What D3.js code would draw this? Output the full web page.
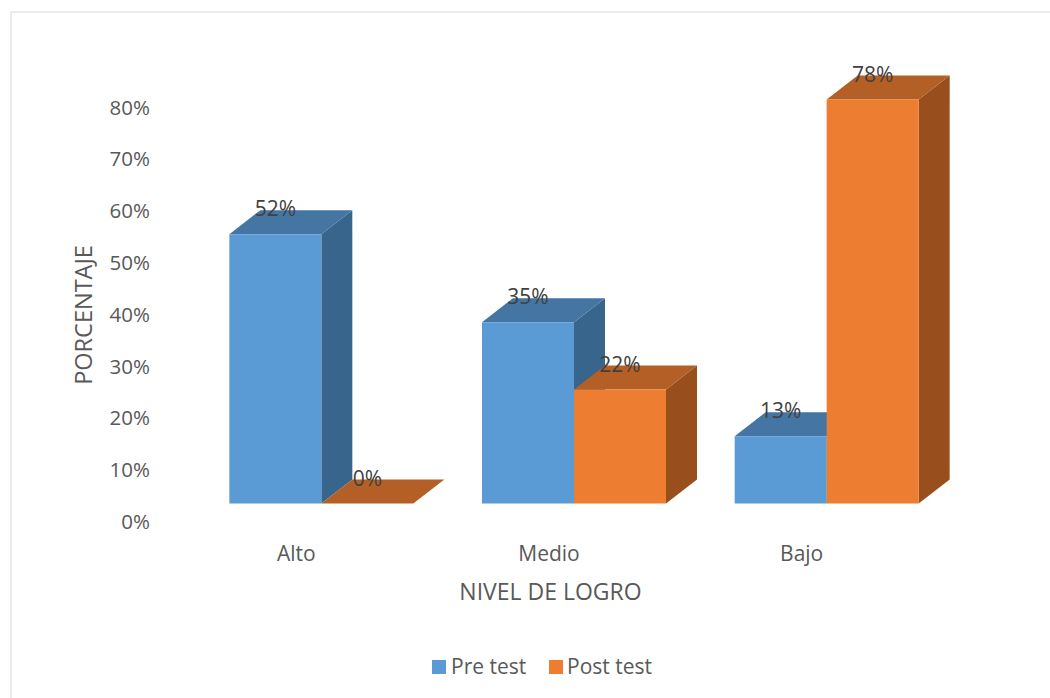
<!DOCTYPE html>
<html><head><meta charset="utf-8">
<script src="https://cdn.jsdelivr.net/npm/d3@7/dist/d3.min.js"></script>
<style>html,body{margin:0;padding:0;background:#fff}svg{display:block}text{font-family:"Open Sans","Noto Sans",sans-serif;fill:#595959}</style>
</head><body><svg id="c" width="1050" height="698"></svg>
<script>
// Achievement level shares before and after the test, drawn as 3D columns
const categories = ["Alto", "Medio", "Bajo"];
const seriesNames = ["Pre test", "Post test"];
const preTest = [52, 35, 13];
const postTest = [0, 22, 78];
const tickValues = [0, 10, 20, 30, 40, 50, 60, 70, 80];

const svg = d3.select("#c");
// Chart frame, open on the right
svg.append("path").attr("d", "M1050 12H11V698").attr("fill", "none").attr("stroke", "#d9d9d9");

const y = d3.scaleLinear().domain([0, 80]).range([522, 107.5]);
const barBase = 503.5;
const barScale = d3.scaleLinear().domain([0, 78]).range([0, 404]);
const xCat = d3.scaleBand().domain(categories).range([195, 953]).padding(0);
const xSer = d3.scaleBand().domain([0, 1]).range([0, 184]);
const depthX = 31, depthY = 24;
const colors = [{f:"#5b9bd5", t:"#4575a2", s:"#38658c"}, {f:"#ed7d31", t:"#b45f25", s:"#994f1d"}];

// Value axis labels
const axis = d3.axisLeft(y).tickValues(tickValues).tickFormat(d => d + "%").tickSize(0).tickPadding(0);
const axG = svg.append("g").attr("transform", "translate(150,0)").call(axis);
axG.select(".domain").remove();
axG.selectAll("text").attr("font-size", 20.5).attr("fill", "#595959");

// Columns, first series first so the second one covers its side face
const rows = [];
categories.forEach((c, i) => { [preTest[i], postTest[i]].forEach((v, s) => rows.push({c, s, v})); });
const catLeft = c => xCat(c) + (xCat.bandwidth() - 184) / 2;
const bars = svg.append("g");
rows.forEach(r => {
  const x0 = catLeft(r.c) + xSer(r.s), w = xSer.bandwidth(), top = barBase - barScale(r.v), x1 = x0 + w;
  const poly = (pts, fill) => bars.append("polygon").attr("points", pts.map(p => p.join(",")).join(" ")).attr("fill", fill);
  poly([[x1, top], [x1 + depthX, top - depthY], [x1 + depthX, barBase - depthY], [x1, barBase]], colors[r.s].s);
  poly([[x0, top], [x0 + depthX, top - depthY], [x1 + depthX, top - depthY], [x1, top]], colors[r.s].t);
  poly([[x0, top], [x1, top], [x1, barBase], [x0, barBase]], colors[r.s].f);
});
// Value labels sit on the top face
rows.forEach(r => {
  const x0 = catLeft(r.c) + xSer(r.s), top = barBase - barScale(r.v);
  svg.append("text").attr("x", x0 + xSer.bandwidth() / 2).attr("y", top - 18)
    .attr("text-anchor", "middle").attr("font-size", 21).style("fill", "#404040").text(r.v + "%");
});

// Category labels and axis titles
categories.forEach(c => {
  svg.append("text").attr("x", catLeft(c) + 67).attr("y", 561).attr("text-anchor", "middle").attr("font-size", 21).text(c);
});
svg.append("text").attr("x", 550.5).attr("y", 600).attr("text-anchor", "middle").attr("font-size", 23).text("NIVEL DE LOGRO");
svg.append("text").attr("transform", "translate(92,315) rotate(-90)").attr("text-anchor", "middle").attr("font-size", 23.5).text("PORCENTAJE");

// Legend
const leg = svg.append("g");
[[432, 451], [549, 567]].forEach(([bx, tx], i) => {
  leg.append("rect").attr("x", bx).attr("y", 660).attr("width", 14).attr("height", 14).attr("fill", colors[i].f);
  leg.append("text").attr("x", tx).attr("y", 674).attr("font-size", 21).text(seriesNames[i]);
});
</script></body></html>
